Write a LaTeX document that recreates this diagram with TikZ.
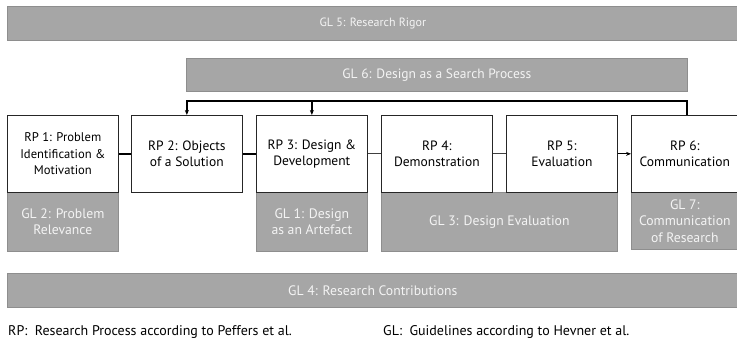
\documentclass[tikz,border=0pt]{standalone}
\usepackage{fontspec}
\setmainfont{PT Sans}
\usetikzlibrary{arrows.meta}
\definecolor{glfill}{HTML}{A6A6A6}
\definecolor{gldraw}{HTML}{8E8E8E}
\definecolor{gltext}{HTML}{F4F4F4}
\begin{document}
\begin{tikzpicture}[x=1pt,y=-1pt,
  rpbox/.style={draw=black!85, line width=0.7pt, fill=white, anchor=north west, align=center,
    inner sep=0pt, font=\fontsize{13.5}{16.5}\selectfont, text=black},
  glbox/.style={draw=gldraw, line width=0.7pt, fill=glfill, anchor=north west, align=center,
    inner sep=0pt, font=\fontsize{13.7}{16.5}\selectfont, text=gltext},
  thickcon/.style={line width=1.8pt, black},
  thincon/.style={line width=1.1pt, black!75},
  fbline/.style={line width=1.4pt, black},
  tip/.style={-{Stealth[length=5pt,width=4pt]}}
]
\useasboundingbox (0,0) rectangle (737,344);
\clip (0,0) rectangle (737,344);
% bars
\node[glbox, minimum width=731pt, minimum height=34pt, font=\fontsize{12}{14}\selectfont] (gl5) at (7,6) {GL 5: Research Rigor};
\node[glbox, minimum width=501pt, minimum height=33pt, font=\fontsize{13.5}{16}\selectfont] (gl6) at (186,58) {GL 6: Design as a Search Process};
\node[glbox, minimum width=731pt, minimum height=34pt, font=\fontsize{13.7}{16}\selectfont] (gl4) at (7,273) {GL 4: Research Contributions};
% GL under boxes
\node[glbox, minimum width=111pt, minimum height=59pt] (gl2) at (7,192) {GL 2: Problem\\Relevance};
\node[glbox, minimum width=111pt, minimum height=59pt] (gl1) at (256,192) {GL 1: Design\\as an Artefact};
\node[glbox, minimum width=236pt, minimum height=59pt] (gl3) at (381,192) {GL 3: Design Evaluation};
\node[glbox, minimum width=107pt, minimum height=57pt] (gl7) at (631,192) {GL 7:\\Communication\\of Research};
% RP boxes
\node[rpbox, minimum width=111pt, minimum height=77pt, font=\fontsize{12.6}{16.5}\selectfont] (rp1) at (7,115) {RP 1: Problem\\Identification \&\\Motivation};
\node[rpbox, minimum width=111pt, minimum height=77pt] (rp2) at (131,115) {RP 2: Objects\\of a Solution};
\node[rpbox, minimum width=111pt, minimum height=77pt] (rp3) at (256,115) {RP 3: Design \&\\Development};
\node[rpbox, minimum width=111pt, minimum height=77pt] (rp4) at (381,115) {RP 4:\\Demonstration};
\node[rpbox, minimum width=111pt, minimum height=77pt] (rp5) at (506,115) {RP 5:\\Evaluation};
\node[rpbox, minimum width=107pt, minimum height=77pt] (rp6) at (631,115) {RP 6:\\Communication};
% connectors
\draw[thickcon] (rp1) -- (rp2);
\draw[thickcon] (rp2) -- (rp3);
\draw[thincon] (rp3) -- (rp4);
\draw[thincon] (rp4) -- (rp5);
\draw[thincon, black, tip] (rp5) -- (rp6);
% feedback
\coordinate (fb) at (687,101);
\draw[fbline, tip] (rp6.north -| fb) -- (fb) -| (rp2.north);
\draw[fbline, tip] (rp3.north |- fb) -- (rp3.north);
% legend
\node[anchor=base west, inner sep=0pt, font=\fontsize{14}{16}\selectfont] (lrp) at (8,336) {RP:\ \ Research Process according to Peffers et al.};
\node[anchor=base west, inner sep=0pt, font=\fontsize{14}{16}\selectfont] (lgl) at (383,336) {GL:\ \ Guidelines according to Hevner et al.};
\end{tikzpicture}
\end{document}
